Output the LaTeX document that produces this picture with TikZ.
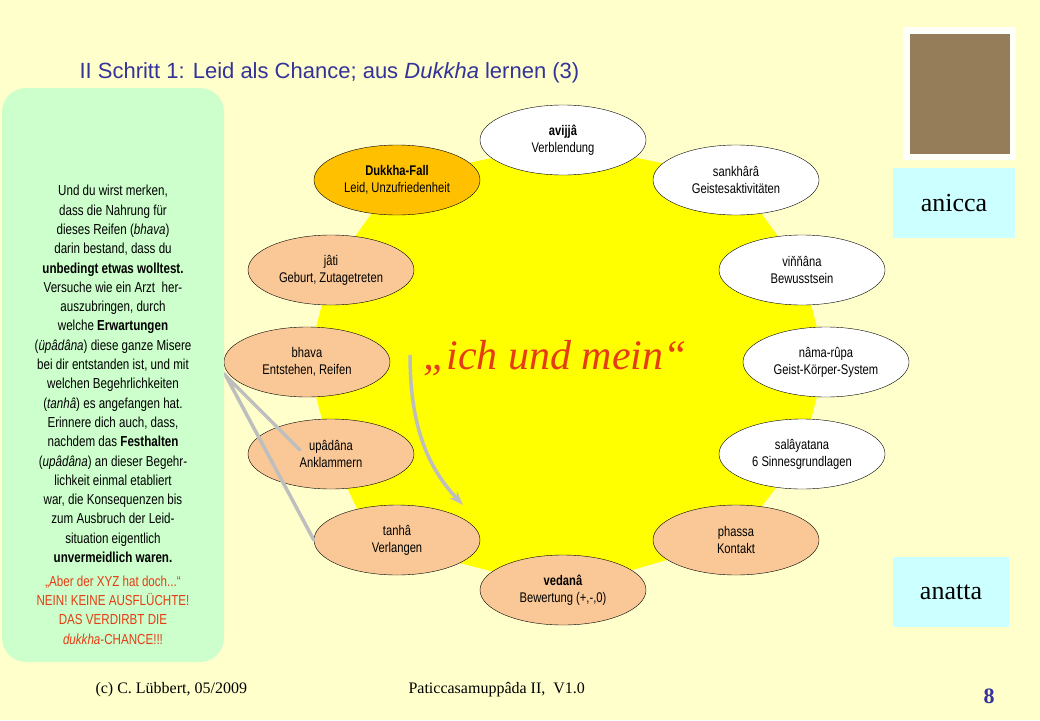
\documentclass[tikz,border=0pt]{standalone}
\usepackage{fontspec}
\setmainfont{Liberation Sans}
\newfontfamily\narrowfont{Liberation Sans}[FakeStretch=0.8]
\newfontfamily\timesfont{Liberation Serif}
\usetikzlibrary{shapes,arrows,arrows.meta,positioning,calc}
\definecolor{pagebg}{RGB}{255,255,204}
\definecolor{sunyellow}{RGB}{255,255,0}
\definecolor{peach}{RGB}{250,200,150}
\definecolor{dukkhaorange}{RGB}{255,192,0}
\definecolor{mintgreen}{RGB}{204,255,204}
\definecolor{paleblue}{RGB}{204,255,255}
\definecolor{titleblue}{RGB}{51,51,153}
\definecolor{warnred}{RGB}{230,60,20}
\definecolor{arrowgray}{RGB}{190,190,190}
\definecolor{photobrown}{RGB}{150,125,90}

\begin{document}
\begin{tikzpicture}[
    x=1pt, y=-1pt,
    link/.style={ellipse, draw=black, fill=#1, minimum width=166pt, minimum height=70pt,
                 inner sep=0pt, align=center, font=\narrowfont\fontsize{14}{17}\selectfont},
    tagbox/.style={fill=paleblue, minimum width=122pt, minimum height=70pt,
                   font=\timesfont\fontsize{26}{28}\selectfont}
]
\useasboundingbox (0,0) rectangle (1040,720);
\fill[pagebg] (0,0) rectangle (1040,720);

% Title
\node[anchor=west, text=titleblue, font=\fontsize{22}{26}\selectfont] (title) at (76,73)
    {II Schritt 1: Leid als Chance; aus \textit{Dukkha} lernen (3)};

% Yellow wheel behind the twelve links
\fill[sunyellow] (563,143) -- (736,178) -- (802,270) -- (826,362) -- (802,454) -- (736,540)
    -- (563,590) -- (372,540) -- (331,454) -- (307,362) -- (331,270) -- (397,178) -- cycle;

% The twelve links
\node[link=white] (avijja) at (563,140) {\textbf{avijjâ}\\Verblendung};
\node[link=white] (sankhara) at (736,180) {sankhârâ\\Geistesaktivitäten};
\node[link=white] (vinnana) at (802,270) {viňňâna\\Bewusstsein};
\node[link=white] (namarupa) at (826,362) {nâma-rûpa\\Geist-Körper-System};
\node[link=white] (salayatana) at (802,454) {salâyatana\\6 Sinnesgrundlagen};
\node[link=peach] (phassa) at (736,540) {phassa\\Kontakt};
\node[link=peach] (vedana) at (563,590) {\textbf{vedanâ}\\Bewertung (+,-,0)};
\node[link=peach] (tanha) at (397,540) {tanhâ\\Verlangen};
\node[link=peach] (upadana) at (331,454) {upâdâna\\Anklammern};
\node[link=peach] (bhava) at (307,362) {bhava\\Entstehen, Reifen};
\node[link=peach] (jati) at (331,270) {jâti\\Geburt, Zutagetreten};
\node[link=dukkhaorange] (dukkha) at (397,180) {\textbf{Dukkha-Fall}\\Leid, Unzufriedenheit};

% Centre text
\node[text=warnred, font=\timesfont\itshape\fontsize{42}{44}\selectfont] (ichmein) at (555,358)
    {„ich und mein“};

% Grey arrows
\coordinate (tip) at (226,376);
\draw[arrowgray, line width=3.5pt, line cap=round] (tanha.west) -- (tip) -- (300,450);
\draw[arrowgray, line width=3.5pt, -{Stealth[length=14pt,width=10pt]}]
    (410,355) .. controls (410,430) and (430,470) .. (463,505);

% Left text box
\fill[mintgreen, rounded corners=24pt] (2,88) rectangle (224,662);
\node[align=center, font=\narrowfont\fontsize{14.5}{19.3}\selectfont] (advice) at (113,374) {%
Und du wirst merken,\\dass die Nahrung für\\dieses Reifen (\textit{bhava})\\darin bestand, dass du\\
\textbf{unbedingt etwas wolltest.}\\Versuche wie ein Arzt\ \ her-\\auszubringen, durch\\
welche \textbf{Erwartungen}\\(\textit{üpâdâna}) diese ganze Misere\\bei dir entstanden ist, und mit\\
welchen Begehrlichkeiten\\(\textit{tanhâ}) es angefangen hat.\\Erinnere dich auch, dass,\\
nachdem das \textbf{Festhalten}\\(\textit{upâdâna}) an dieser Begehr-\\lichkeit einmal etabliert\\
war, die Konsequenzen bis\\zum Ausbruch der Leid-\\situation eigentlich\\\textbf{unvermeidlich waren.}};
\node[align=center, text=warnred, font=\narrowfont\fontsize{14.5}{19.3}\selectfont] (warning) at (113,610) {%
„Aber der XYZ hat doch...“\\NEIN! KEINE AUSFLÜCHTE!\\DAS VERDIRBT DIE\\\textit{dukkha}-CHANCE!!!};

% Photo and tags
\fill[white!90!pagebg] (903,27) rectangle (1016,160);
\fill[photobrown] (910,34) rectangle (1010,154);
\node[tagbox] (anicca) at (954,203) {anicca};
\node[tagbox, minimum width=116pt] (anatta) at (951,592) {anatta};

% Footer
\node[anchor=west, font=\timesfont\fontsize{16}{18}\selectfont] (author) at (92,690) {(c) C. Lübbert, 05/2009};
\node[anchor=west, font=\timesfont\fontsize{16}{18}\selectfont] (series) at (405,690) {Paticcasamuppâda II,\ \ V1.0};
\node[text=titleblue, font=\timesfont\bfseries\fontsize{22}{24}\selectfont] (page) at (989,696) {8};
\end{tikzpicture}
\end{document}
